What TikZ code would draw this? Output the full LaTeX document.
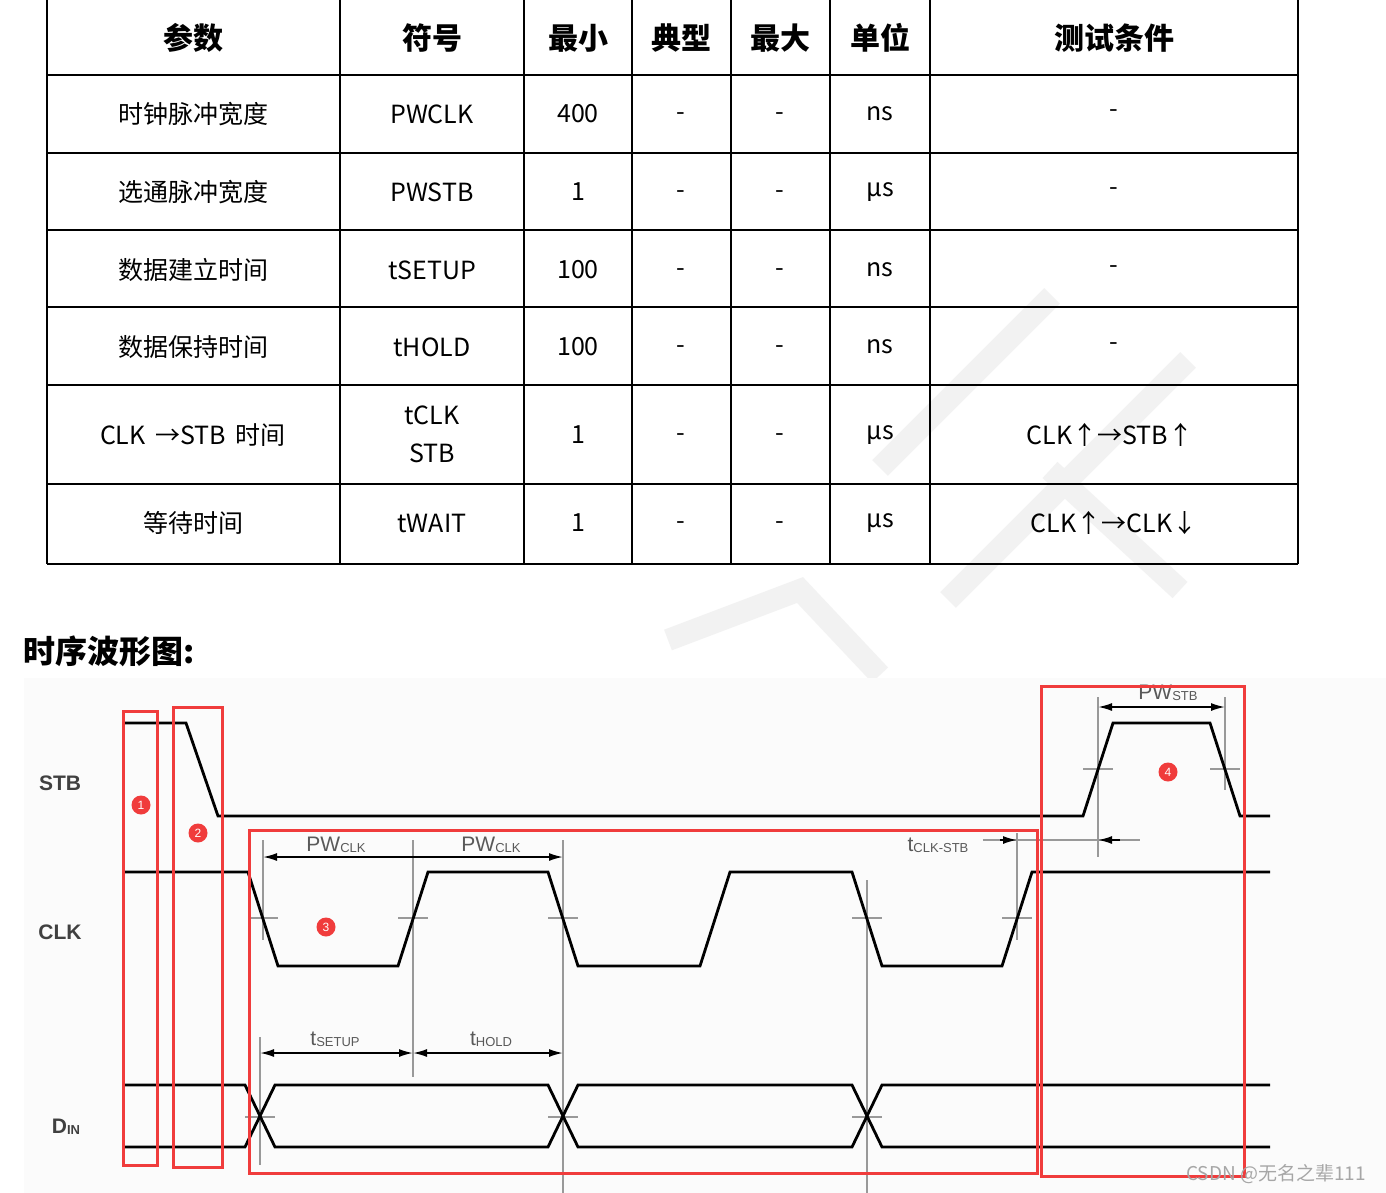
\documentclass[tikz,border=0pt]{standalone}
\usepackage{fontspec}
\setmainfont{Noto Sans CJK SC}
\newfontfamily\arl{Liberation Sans}
\usetikzlibrary{arrows.meta}
\definecolor{redb}{HTML}{F03C3C}
\newcommand{\sublbl}[2]{{\arl\fontsize{21}{22}\selectfont #1\fontsize{13}{13}\selectfont\raisebox{-1pt}{#2}}}
\begin{document}
\begin{tikzpicture}[x=1pt,y=-1pt,
  tb/.style={line width=2.6pt},
  cell/.style={font=\fontsize{25}{28}\selectfont},
  hd/.style={font=\fontsize{30}{32}\selectfont\bfseries},
  wave/.style={line width=2.8pt,line join=miter},
  guide/.style={gray!80,line width=1.8pt},
  dim/.style={line width=1.8pt,{Latex[length=14pt,width=8pt]}-{Latex[length=14pt,width=8pt]}},
  rbox/.style={draw=redb,line width=3pt},
  bub/.style={circle,fill=redb,text=white,inner sep=0pt,minimum size=19pt,font=\arl\fontsize{12}{12}\selectfont},
  sig/.style={font=\arl\bfseries\fontsize{21}{21}\selectfont,text=black!75}]
\useasboundingbox (0,0) rectangle (1386,1193);
\fill[white] (0,0) rectangle (1386,1193);
% watermark
\begin{scope}[gray!10,line width=22pt]
\draw (880,468) -- (1052,296);
\draw (948,600) -- (1188,360);
\draw (1050,470) -- (1180,590);
\draw (668,640) -- (800,590) -- (880,675);
\end{scope}
\fill[black!1.5] (24,678) rectangle (1386,1193);
% table
\foreach \x in {47,340,524,632,731,830,930,1298} \draw[tb] (\x,0) -- (\x,564);
\foreach \y in {75,153,230,307,385,484,564} \draw[tb] (47,\y) -- (1298,\y);
\node[hd] (h1) at (193,38) {参数};
\node[hd] (h2) at (432,38) {符号};
\node[hd] (h3) at (578,38) {最小};
\node[hd] (h4) at (681,38) {典型};
\node[hd] (h5) at (780,38) {最大};
\node[hd] (h6) at (880,38) {单位};
\node[hd] (h7) at (1114,38) {测试条件};
\foreach \r/\y/\a/\b/\c/\u/\t in {1/114/时钟脉冲宽度/PWCLK/400/ns/-,2/192/选通脉冲宽度/PWSTB/1/µs/-,3/270/数据建立时间/tSETUP/100/ns/-,4/347/数据保持时间/tHOLD/100/ns/-,6/523/等待时间/tWAIT/1/µs/CLK↑→CLK↓}{
  \node[cell] (a\r) at (193,\y) {\a};
  \node[cell] (b\r) at (432,\y) {\b};
  \node[cell] (c\r) at (578,\y) {\c};
  \node[cell] (d\r) at (681,\y+3) {-};
  \node[cell] (e\r) at (780,\y+3) {-};
  \node[cell] (f\r) at (880,\y) {\u};
  \node[cell] (g\r) at (1114,\y) {\t};
}
\node[cell] (a5) at (193,435) {CLK \,→STB\, 时间};
\node[cell] (b5a) at (432,415) {tCLK};
\node[cell] (b5b) at (432,453) {STB};
\node[cell] (c5) at (578,435) {1};
\node[cell] (d5) at (681,438) {-};
\node[cell] (e5) at (780,438) {-};
\node[cell] (f5) at (880,435) {µs};
\node[cell] (g5) at (1110,435) {CLK↑→STB↑};
% title
\node[anchor=west,font=\fontsize{32}{34}\selectfont\bfseries] (title) at (20,651) {时序波形图:};
% signal names
\node[sig] (sstb) at (60,783) {STB};
\node[sig] (sclk) at (60,932) {CLK};
\node[sig] (sdin) at (66,1127) {D\fontsize{13}{13}\selectfont\raisebox{-1pt}{IN}};
% guides
\draw[guide] (263,840) -- (263,940);
\draw[guide] (413,840) -- (413,1077);
\draw[guide] (563,840) -- (563,1193);
\draw[guide] (867,880) -- (867,1193);
\draw[guide] (1017,833) -- (1017,940);
\draw[guide] (1098,697) -- (1098,857);
\draw[guide] (1225,697) -- (1225,790);
\draw[guide] (260,1037) -- (260,1165);
\foreach \x in {263,413,563,867,1017} \draw[guide] (\x-15,918) -- (\x+15,918);
\foreach \x in {1098,1225} \draw[guide] (\x-15,769) -- (\x+15,769);
\foreach \x in {260,563,867} \draw[guide] (\x-15,1117) -- (\x+15,1117);
% waves
\draw[wave] (125,723) -- (186,723) -- (218,816) -- (1083,816) -- (1113,723) -- (1210,723) -- (1240,816) -- (1270,816);
\draw[wave] (125,872) -- (248,872) -- (278,966) -- (398,966) -- (428,872) -- (548,872) -- (578,966) -- (700,966) -- (730,872) -- (852,872) -- (882,966) -- (1002,966) -- (1032,872) -- (1270,872);
\draw[wave] (125,1085) -- (245,1085) -- (275,1147) -- (548,1147) -- (578,1085) -- (852,1085) -- (882,1147) -- (1270,1147);
\draw[wave] (125,1147) -- (245,1147) -- (275,1085) -- (548,1085) -- (578,1147) -- (852,1147) -- (882,1085) -- (1270,1085);
% dimensions
\coordinate (p1) at (263,857); \coordinate (p2) at (413,857); \coordinate (p3) at (563,857);
\draw[dim] (p1) -- (p3);
\node[text=black!65] (lpw1) at (336,845) {\sublbl{PW}{CLK}};
\node[text=black!65] (lpw2) at (491,845) {\sublbl{PW}{CLK}};
\coordinate (s1) at (260,1053); \coordinate (s2) at (413,1053); \coordinate (s3) at (563,1053);
\draw[dim] (s1) -- (s2);
\draw[dim] (s2) -- (s3);
\node[text=black!65] (lsu) at (335,1039) {\sublbl{t}{SETUP}};
\node[text=black!65] (lho) at (491,1039) {\sublbl{t}{HOLD}};
\coordinate (w1) at (1098,707); \coordinate (w2) at (1225,707);
\draw[dim] (w1) -- (w2);
\node[text=black!65] (lpws) at (1168,693) {\sublbl{PW}{STB}};
\coordinate (c1) at (983,840); \coordinate (c2) at (1017,840); \coordinate (c3) at (1098,840); \coordinate (c4) at (1140,840);
\draw[guide] (c1) -- (c4);
\draw[line width=1.8pt,-{Latex[length=14pt,width=8pt]}] (1000,840) -- (c2);
\draw[line width=1.8pt,-{Latex[length=14pt,width=8pt]}] (1120,840) -- (c3);
\node[text=black!65] (lcs) at (938,845) {\sublbl{t}{CLK-STB}};
% red boxes
\draw[rbox] (123,711) rectangle (157,1165);
\draw[rbox] (173,707) rectangle (222,1167);
\draw[rbox] (249,830) rectangle (1037,1173);
\draw[rbox] (1041,686) rectangle (1244,1176);
\node[bub] (n1) at (141,805) {1};
\node[bub] (n2) at (198,833) {2};
\node[bub] (n3) at (326,927) {3};
\node[bub] (n4) at (1168,772) {4};
\node[text=gray!70,font=\fontsize{19}{20}\selectfont] (wm) at (1276,1174) {CSDN @无名之辈111};
\end{tikzpicture}
\end{document}
